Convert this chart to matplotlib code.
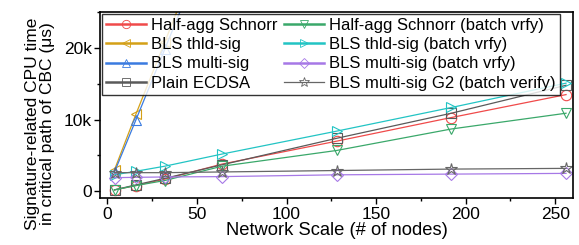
import matplotlib
matplotlib.use("Agg")
import matplotlib.pyplot as plt
from matplotlib.ticker import FuncFormatter, MultipleLocator

plt.rcParams['font.family'] = ['Liberation Sans', 'DejaVu Sans']

nodes = [4, 16, 32, 64, 128, 192, 256]

half_agg = [200, 800, 1700, 3800, 7000, 10300, 13500]
bls_thld = [3000, 10800, 20800, 41000, 82000, 123000, 164000]
bls_multi = [2700, 10000, 19800, 39500, 79000, 118000, 157000]
ecdsa = [200, 900, 1800, 3700, 7400, 10900, 14800]
half_agg_batch = [200, 800, 1500, 3500, 5700, 8700, 10900]
bls_thld_batch = [2300, 2800, 3500, 5200, 8400, 11700, 15100]
bls_multi_batch = [1900, 1950, 2000, 2050, 2300, 2400, 2500]
bls_g2_batch = [2600, 2600, 2600, 2700, 2900, 3100, 3200]

series = [
    ("Half-agg Schnorr", half_agg, "#f04a4a", "o", 1.8),
    ("BLS thld-sig", bls_thld, "#d4a017", "<", 1.8),
    ("BLS multi-sig", bls_multi, "#3a7be0", "^", 1.8),
    ("Plain ECDSA", ecdsa, "#5a5a5a", "s", 1.8),
    ("Half-agg Schnorr (batch vrfy)", half_agg_batch, "#3aa86a", "v", 1.8),
    ("BLS thld-sig (batch vrfy)", bls_thld_batch, "#22c4c4", ">", 1.8),
    ("BLS multi-sig (batch vrfy)", bls_multi_batch, "#a678e6", "D", 1.8),
    ("BLS multi-sig G2 (batch verify)", bls_g2_batch, "#666666", "*", 0.9),
]

fig, ax = plt.subplots(figsize=(5.79, 2.45), dpi=100)

handles = []
for label, vals, color, marker, lw_leg in series:
    ms = 6 if marker == "D" else 7.5
    if marker == "*":
        ms = 9
    ax.plot(nodes, vals, color=color, lw=0.9, marker=marker, ms=ms,
            mfc="none", mec=color, mew=0.8, label=label)
    h, = ax.plot([], [], color=color, lw=lw_leg, marker=marker, ms=ms * 0.8,
                 mfc="none", mec=color, mew=0.6, label=label)
    handles.append(h)

ax.set_xlim(-4, 260)
ax.set_ylim(-1000, 25000)
ax.xaxis.set_major_locator(MultipleLocator(50))
ax.xaxis.set_minor_locator(MultipleLocator(25))
ax.yaxis.set_major_locator(MultipleLocator(10000))
ax.yaxis.set_minor_locator(MultipleLocator(5000))
ax.yaxis.set_major_formatter(FuncFormatter(lambda v, p: "0" if v == 0 else f"{int(v/1000)}k"))
ax.tick_params(which="both", direction="out", labelsize=12.5, width=1, pad=2)
ax.tick_params(which="major", length=4)
ax.tick_params(which="minor", length=2.5)
for s in ax.spines.values():
    s.set_linewidth(1.2)

ax.set_xlabel("Network Scale (# of nodes)", fontsize=13.2, labelpad=0)
ax.set_ylabel("Signature-related CPU time\nin critical path of CBC (\u03bcs)",
              fontsize=12.5, linespacing=1.0)
ax.yaxis.set_label_coords(-0.095, 0.4)

leg = ax.legend(handles=handles, ncol=2, loc="upper left", fontsize=12,
                frameon=True, fancybox=False, edgecolor="black",
                borderaxespad=0.1, handlelength=2.4, handletextpad=0.3,
                columnspacing=0.4, labelspacing=0.25, borderpad=0.25)
leg.get_frame().set_linewidth(1.0)

fig.subplots_adjust(left=0.173, right=0.99, top=0.95, bottom=0.19)
fig.savefig("out.png", dpi=100)
